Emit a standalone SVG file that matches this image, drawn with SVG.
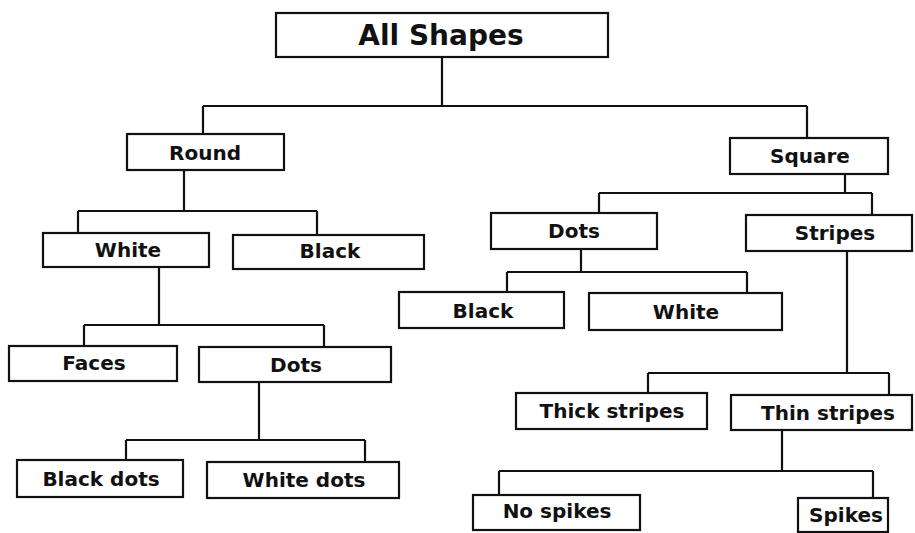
<svg xmlns="http://www.w3.org/2000/svg" width="915" height="533" viewBox="0 0 915 533">
<style>
.box{fill:#fff;stroke:#111;stroke-width:2.2}
.ln{fill:none;stroke:#111;stroke-width:2.2}
text{font-family:"DejaVu Sans","Liberation Sans",sans-serif;font-weight:bold;font-size:20px;fill:#111;text-anchor:middle}
.big{font-size:28px}
</style>
<rect width="915" height="533" fill="#fff"/>
<g id="connectors">
<path class="ln" d="M442 57V106M203 106H807M203 106V134M807 106V138"/>
<path class="ln" d="M184 170V211M78 211H317M78 211V233M317 211V235"/>
<path class="ln" d="M159 267V325M84 325H324M84 325V346M324 325V347"/>
<path class="ln" d="M259 382V440M126 440H365M126 440V460M365 440V462"/>
<path class="ln" d="M845 174V193M599 193H872M599 193V213M872 193V215"/>
<path class="ln" d="M581 249V272M507 272H747M507 272V292M747 272V293"/>
<path class="ln" d="M847 251V373M648 373H889M648 373V393M889 373V395"/>
<path class="ln" d="M782 430V471M499 471H873M499 471V495M873 471V498"/>
</g>
<g id="all-shapes"><rect class="box" x="276" y="13" width="332" height="44"/><text class="big" x="441" y="45">All Shapes</text></g>
<g id="round"><rect class="box" x="127" y="134" width="157" height="36"/><text x="205" y="160">Round</text></g>
<g id="white-round"><rect class="box" x="43" y="233" width="166" height="34"/><text x="128" y="257">White</text></g>
<g id="black-round"><rect class="box" x="233" y="235" width="191" height="34"/><text x="330" y="258">Black</text></g>
<g id="faces"><rect class="box" x="9" y="346" width="168" height="35"/><text x="94" y="370">Faces</text></g>
<g id="dots-round"><rect class="box" x="199" y="347" width="192" height="35"/><text x="296" y="372">Dots</text></g>
<g id="black-dots"><rect class="box" x="17" y="460" width="166" height="37"/><text x="101" y="486">Black dots</text></g>
<g id="white-dots"><rect class="box" x="207" y="462" width="192" height="36"/><text x="304" y="487">White dots</text></g>
<g id="square"><rect class="box" x="730" y="138" width="158" height="36"/><text x="810" y="163">Square</text></g>
<g id="dots-square"><rect class="box" x="491" y="213" width="166" height="36"/><text x="574" y="238">Dots</text></g>
<g id="stripes"><rect class="box" x="746" y="215" width="166" height="36"/><text x="835" y="240">Stripes</text></g>
<g id="black-square"><rect class="box" x="399" y="292" width="165" height="36"/><text x="483" y="318">Black</text></g>
<g id="white-square"><rect class="box" x="589" y="293" width="193" height="37"/><text x="686" y="319">White</text></g>
<g id="thick-stripes"><rect class="box" x="516" y="393" width="191" height="36"/><text x="612" y="418">Thick stripes</text></g>
<g id="thin-stripes"><rect class="box" x="731" y="395" width="181" height="35"/><text x="828" y="420">Thin stripes</text></g>
<g id="no-spikes"><rect class="box" x="473" y="495" width="167" height="35"/><text x="557" y="518">No spikes</text></g>
<g id="spikes"><rect class="box" x="798" y="498" width="90" height="34"/><text x="846" y="522">Spikes</text></g>
</svg>
